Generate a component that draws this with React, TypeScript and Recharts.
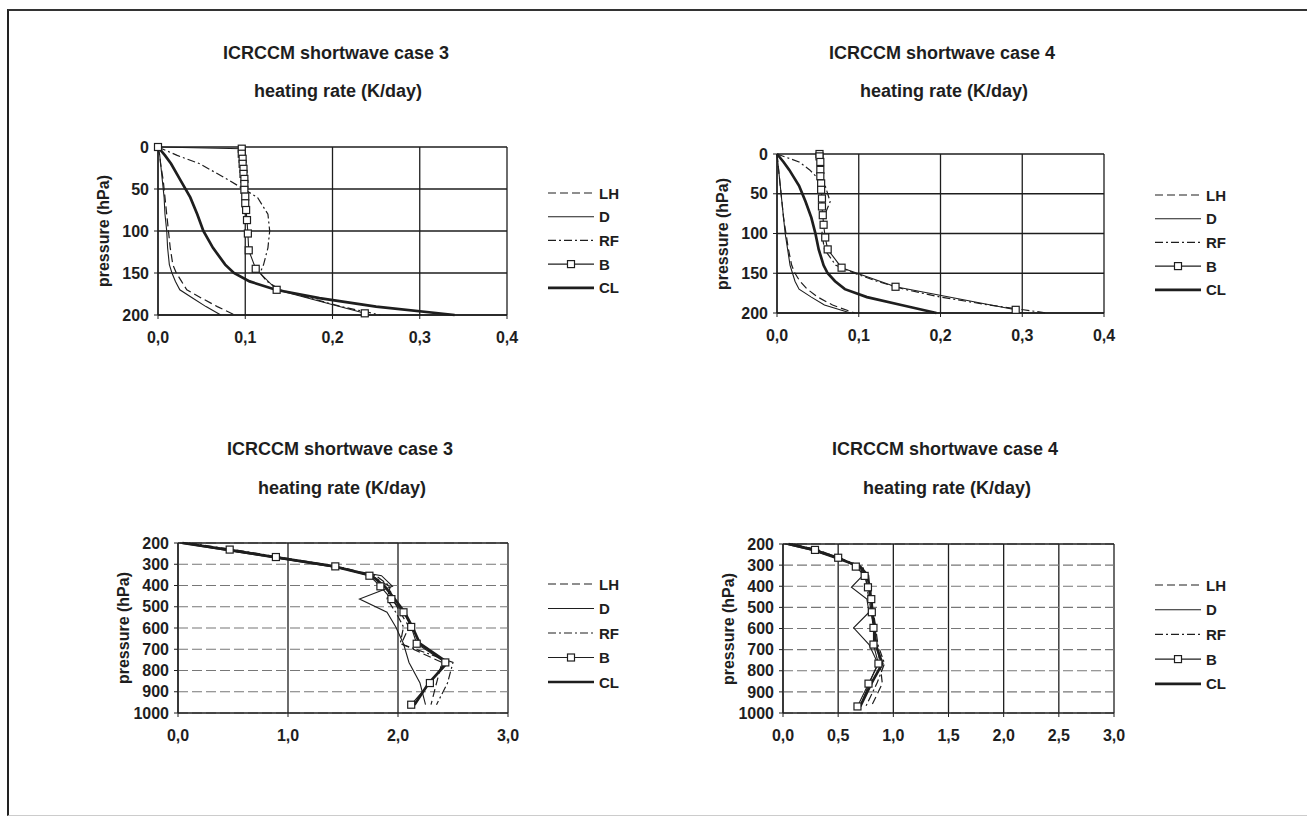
import React from "react";
import { LineChart, Line, XAxis, YAxis, CartesianGrid, ReferenceLine } from "recharts";

const FONT = '"Liberation Sans", Arial, sans-serif';
const INK = "#1e1e1e";

// pressure levels (hPa) for the upper panels, 0-200 hPa
const upperLevels = [0, 10, 20, 40, 60, 80, 100, 120, 140, 150, 160, 170, 180, 190, 200];

// case 3, upper
const c3UpperLH = [0, 0.002, 0.003, 0.006, 0.008, 0.01, 0.012, 0.014, 0.017, 0.021, 0.027, 0.033, 0.05, 0.068, 0.088];
const c3UpperD = [0, 0.002, 0.003, 0.005, 0.007, 0.008, 0.01, 0.011, 0.013, 0.016, 0.02, 0.025, 0.04, 0.055, 0.072];
const c3UpperRF = [0, 0.022, 0.048, 0.082, 0.114, 0.126, 0.128, 0.126, 0.121, 0.117, 0.125, 0.14, 0.175, 0.21, 0.255];
const c3UpperCL = [0, 0.008, 0.015, 0.026, 0.037, 0.045, 0.052, 0.063, 0.077, 0.087, 0.105, 0.135, 0.185, 0.25, 0.34];
const c3UpperBLevels = [0, 2, 8, 14, 20, 26, 32, 38, 44, 51, 59, 67, 75, 87, 103, 123, 145, 170, 198];
const c3UpperB = [0, 0.096, 0.096, 0.097, 0.097, 0.098, 0.098, 0.099, 0.099, 0.099, 0.1, 0.1, 0.101, 0.102, 0.103, 0.104, 0.112, 0.136, 0.237];

// case 4, upper
const c4UpperLH = [0, 0.001, 0.002, 0.004, 0.006, 0.008, 0.011, 0.014, 0.018, 0.022, 0.028, 0.037, 0.05, 0.068, 0.095];
const c4UpperD = [0, 0.001, 0.002, 0.004, 0.006, 0.008, 0.01, 0.013, 0.016, 0.019, 0.022, 0.027, 0.042, 0.058, 0.09];
const c4UpperRF = [0, 0.027, 0.04, 0.059, 0.065, 0.057, 0.055, 0.058, 0.072, 0.095, 0.122, 0.155, 0.2, 0.26, 0.33];
const c4UpperCL = [0, 0.008, 0.015, 0.027, 0.035, 0.042, 0.047, 0.051, 0.057, 0.062, 0.071, 0.083, 0.11, 0.152, 0.195];
const c4UpperBLevels = [0, 3, 10, 20, 28, 37, 45, 56, 66, 77, 89, 105, 120, 143, 167, 196];
const c4UpperB = [0.052, 0.052, 0.053, 0.053, 0.053, 0.054, 0.054, 0.055, 0.055, 0.056, 0.057, 0.059, 0.062, 0.079, 0.145, 0.292];

// case 3, lower (200-1000 hPa)
const c3LowerLevels = [200, 231, 266, 310, 354, 404, 464, 526, 595, 674, 762, 859, 961];
const c3LowerLH = [0.05, 0.42, 0.85, 1.4, 1.76, 1.92, 1.95, 2.02, 2.1, 2.03, 2.4, 2.35, 2.3];
const c3LowerD = [0.02, 0.4, 0.82, 1.38, 1.85, 1.95, 1.65, 1.9, 1.98, 2.05, 2.1, 2.2, 2.25];
const c3LowerRF = [0.1, 0.5, 0.92, 1.45, 1.8, 1.93, 1.9, 1.98, 2.05, 2.02, 2.5, 2.45, 2.35];
const c3LowerCL = [0.04, 0.45, 0.88, 1.42, 1.76, 1.88, 1.97, 2.06, 2.13, 2.2, 2.45, 2.28, 2.15];
const c3LowerBLevels = [231, 266, 310, 354, 404, 464, 526, 595, 674, 762, 859, 961];
const c3LowerB = [0.47, 0.89, 1.43, 1.74, 1.84, 1.94, 2.05, 2.12, 2.17, 2.43, 2.29, 2.12];

// case 4, lower
const c4LowerLevels = [200, 228, 265, 307, 351, 405, 461, 523, 597, 676, 766, 861, 969];
const c4LowerLH = [0.1, 0.3, 0.52, 0.68, 0.75, 0.76, 0.78, 0.8, 0.82, 0.85, 0.88, 0.9, 0.8];
const c4LowerD = [0.02, 0.25, 0.48, 0.7, 0.72, 0.62, 0.76, 0.78, 0.64, 0.78, 0.86, 0.78, 0.7];
const c4LowerRF = [0.08, 0.32, 0.5, 0.72, 0.76, 0.8, 0.79, 0.82, 0.84, 0.86, 0.92, 0.85, 0.75];
const c4LowerCL = [0.05, 0.28, 0.48, 0.7, 0.77, 0.78, 0.8, 0.81, 0.83, 0.84, 0.9, 0.8, 0.7];
const c4LowerBLevels = [228, 265, 307, 351, 405, 461, 523, 597, 676, 766, 861, 969];
const c4LowerB = [0.29, 0.5, 0.66, 0.74, 0.77, 0.8, 0.805, 0.82, 0.82, 0.865, 0.775, 0.675];

const upperXTicks = [0, 0.1, 0.2, 0.3, 0.4];
const upperYTicks = [0, 50, 100, 150, 200];
const lowerXTicks3 = [0, 1, 2, 3];
const lowerXTicks4 = [0, 0.5, 1, 1.5, 2, 2.5, 3];
const lowerYTicks = [200, 300, 400, 500, 600, 700, 800, 900, 1000];

const seriesNames = ["LH", "D", "RF", "B", "CL"];

const styles: Record<string, { dash?: string; width: number }> = {
  LH: { dash: "8 4", width: 1.2 },
  D: { width: 1.1 },
  RF: { dash: "8 3 2 3", width: 1.2 },
  B: { width: 1.1 },
  CL: { width: 2.7 },
};

const toPoints = (levels: number[], values: number[]) =>
  levels.map((p, i) => ({ p, x: values[i] }));

const comma = (v: number) => v.toFixed(1).replace(".", ",");

const squareDot = (props: any) => {
  const { cx, cy, index } = props;
  if (cx == null || cy == null) return <g key={`e-${index}`} />;
  return (
    <rect key={`sq-${index}`} x={cx - 3.5} y={cy - 3.5} width={7} height={7}
      fill="#fff" stroke={INK} strokeWidth={1.2} />
  );
};

const ML = 100;
const MT = 12;
const MR = 20;
const MB = 44;

type PanelProps = {
  plot: { x: number; y: number; w: number; h: number };
  xMax: number;
  xTicks: number[];
  yDomain: [number, number];
  yTicks: number[];
  series: { name: string; data: { p: number; x: number }[] }[];
  lower: boolean;
  legend: { x: number; y: number; gap: number };
};

const Panel = ({ plot, xMax, xTicks, yDomain, yTicks, series, lower, legend }: PanelProps) => {
  const width = plot.w + ML + MR;
  const height = plot.h + MT + MB;
  const tick = { fill: INK, fontSize: 16, fontWeight: 700, fontFamily: FONT };
  return (
    <>
      <div style={{ position: "absolute", left: plot.x - ML, top: plot.y - MT, width, height }}>
        <LineChart width={width} height={height} margin={{ top: MT, right: MR, left: 0, bottom: 0 }}>
          {lower ? (
            <>
              <CartesianGrid horizontal={false} stroke={INK} strokeWidth={1.3} />
              <CartesianGrid vertical={false} stroke="#777" strokeWidth={1.1} strokeDasharray="10 4" />
              <ReferenceLine y={yDomain[0]} stroke={INK} strokeWidth={1.3} />
            </>
          ) : (
            <CartesianGrid stroke={INK} strokeWidth={1.3} />
          )}
          <XAxis
            type="number"
            dataKey="x"
            domain={[0, xMax]}
            ticks={xTicks}
            interval={0}
            tickFormatter={comma}
            tick={tick}
            tickSize={4}
            tickMargin={13}
            axisLine={{ stroke: INK, strokeWidth: 1.3 }}
            tickLine={{ stroke: INK }}
            height={MB}
          />
          <YAxis
            type="number"
            domain={yDomain}
            reversed
            ticks={yTicks}
            interval={0}
            tick={tick}
            tickSize={4}
            tickMargin={5}
            axisLine={{ stroke: INK, strokeWidth: 1.3 }}
            tickLine={{ stroke: INK }}
            width={ML}
          />
          {series.map((s) => (
            <Line
              key={s.name}
              name={s.name}
              data={s.data}
              dataKey="p"
              type="linear"
              stroke={INK}
              strokeWidth={styles[s.name].width}
              strokeDasharray={styles[s.name].dash}
              dot={s.name === "B" ? squareDot : false}
              activeDot={false}
              isAnimationActive={false}
            />
          ))}
        </LineChart>
      </div>
      <div
        style={{
          position: "absolute",
          left: plot.x - 54,
          top: plot.y + plot.h / 2,
          transform: "translate(-50%, -50%) rotate(-90deg)",
          whiteSpace: "nowrap",
          fontFamily: FONT,
          fontWeight: 700,
          fontSize: 16,
          color: INK,
        }}
      >
        pressure (hPa)
      </div>
      <svg style={{ position: "absolute", left: legend.x, top: legend.y - 10 }} width={90} height={legend.gap * 5 + 10}>
        {seriesNames.map((n, i) => {
          const y = 10 + i * legend.gap;
          return (
            <g key={n}>
              <line x1={0} x2={46} y1={y} y2={y} stroke={INK}
                strokeWidth={styles[n].width} strokeDasharray={styles[n].dash} />
              {n === "B" && (
                <rect x={19.5} y={y - 3.5} width={7} height={7} fill="#fff" stroke={INK} strokeWidth={1.2} />
              )}
              <text x={51} y={y + 5.5} fontFamily={FONT} fontWeight={700} fontSize={15} fill={INK}>
                {n}
              </text>
            </g>
          );
        })}
      </svg>
    </>
  );
};

const Title = ({ cx, y, text }: { cx: number; y: number; text: string }) => (
  <div
    style={{
      position: "absolute",
      left: cx - 200,
      top: y - 10,
      width: 400,
      lineHeight: "20px",
      textAlign: "center",
      fontFamily: FONT,
      fontWeight: 700,
      fontSize: 18,
      color: INK,
    }}
  >
    {text}
  </div>
);

const build = (levels: number[], bLevels: number[], lh: number[], d: number[], rf: number[], b: number[], cl: number[]) => [
  { name: "LH", data: toPoints(levels, lh) },
  { name: "D", data: toPoints(levels, d) },
  { name: "RF", data: toPoints(levels, rf) },
  { name: "B", data: toPoints(bLevels, b) },
  { name: "CL", data: toPoints(levels, cl) },
];

export default function App() {
  return (
    <div style={{ position: "absolute", left: 0, top: 0, width: 1307, height: 816, background: "#fff", overflow: "hidden" }}>
      <div
        style={{
          position: "absolute",
          left: 7,
          top: 9,
          width: 1310,
          height: 804,
          borderTop: "2px solid #333",
          borderLeft: "2px solid #222",
          borderBottom: "1px solid #ccc",
        }}
      />

      <Title cx={336} y={53} text="ICRCCM shortwave case 3" />
      <Title cx={338} y={91} text="heating rate (K/day)" />
      <Title cx={942} y={53} text="ICRCCM shortwave case 4" />
      <Title cx={944} y={91} text="heating rate (K/day)" />
      <Title cx={340} y={449} text="ICRCCM shortwave case 3" />
      <Title cx={342} y={488} text="heating rate (K/day)" />
      <Title cx={945} y={449} text="ICRCCM shortwave case 4" />
      <Title cx={947} y={488} text="heating rate (K/day)" />

      <Panel
        plot={{ x: 158, y: 147, w: 349, h: 168 }}
        xMax={0.4}
        xTicks={upperXTicks}
        yDomain={[0, 200]}
        yTicks={upperYTicks}
        series={build(upperLevels, c3UpperBLevels, c3UpperLH, c3UpperD, c3UpperRF, c3UpperB, c3UpperCL)}
        lower={false}
        legend={{ x: 548, y: 193, gap: 23.7 }}
      />
      <Panel
        plot={{ x: 777, y: 154, w: 327, h: 159 }}
        xMax={0.4}
        xTicks={upperXTicks}
        yDomain={[0, 200]}
        yTicks={upperYTicks}
        series={build(upperLevels, c4UpperBLevels, c4UpperLH, c4UpperD, c4UpperRF, c4UpperB, c4UpperCL)}
        lower={false}
        legend={{ x: 1155, y: 195, gap: 23.7 }}
      />
      <Panel
        plot={{ x: 178, y: 543, w: 330, h: 170 }}
        xMax={3}
        xTicks={lowerXTicks3}
        yDomain={[200, 1000]}
        yTicks={lowerYTicks}
        series={build(c3LowerLevels, c3LowerBLevels, c3LowerLH, c3LowerD, c3LowerRF, c3LowerB, c3LowerCL)}
        lower
        legend={{ x: 548, y: 584, gap: 24.5 }}
      />
      <Panel
        plot={{ x: 783, y: 544, w: 331, h: 169 }}
        xMax={3}
        xTicks={lowerXTicks4}
        yDomain={[200, 1000]}
        yTicks={lowerYTicks}
        series={build(c4LowerLevels, c4LowerBLevels, c4LowerLH, c4LowerD, c4LowerRF, c4LowerB, c4LowerCL)}
        lower
        legend={{ x: 1155, y: 585, gap: 24.7 }}
      />
    </div>
  );
}
